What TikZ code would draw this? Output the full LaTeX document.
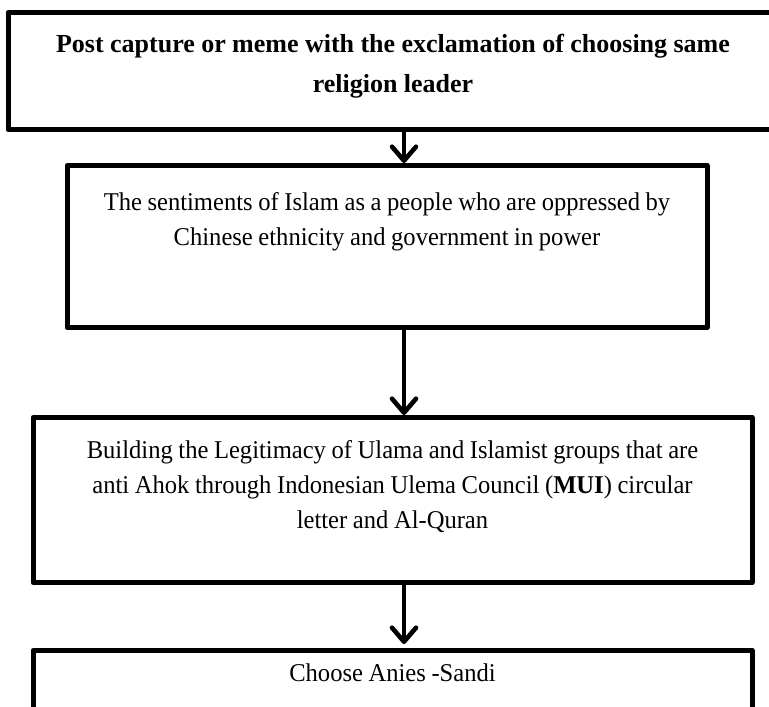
\documentclass[tikz,border=0pt]{standalone}
\usepackage{fontspec}
\setmainfont{Liberation Serif}[FakeStretch=0.96]
\newfontfamily\headfont{Liberation Serif}
\usetikzlibrary{arrows.meta}
\newcommand\bodyfont{\fontsize{12.8}{17.5}\selectfont}
\newcommand\tightsp{\spaceskip=2.8pt\relax}
\newcommand\headsp{\spaceskip=3.2pt\relax}
\begin{document}
\begin{tikzpicture}[x=0.5pt,y=-0.5pt,
  flowbox/.style={draw=black, line width=2.5pt, line join=round, inner sep=0pt,
    align=center, anchor=north, font=\bodyfont},
  arr/.style={line width=2.3pt, -{Straight Barb[length=7pt,width=12pt,round]}}]
\useasboundingbox (0,0) rectangle (769,706);
\clip (0,0) rectangle (769,706);
\node[flowbox, text width=385pt, text height=20pt, text depth=38.5pt,
  font=\fontsize{13}{20}\headfont\bfseries] (b1) at (393,10)
  {\headsp Post capture or meme with the exclamation of choosing same\\religion leader};
\node[flowbox, text width=320pt, text height=22.5pt, text depth=58.5pt] (b2) at (387,163)
  {\tightsp The sentiments of Islam as a people who are oppressed by\\Chinese ethnicity and government in power};
\node[flowbox, text width=359.5pt, text height=20.5pt, text depth=62pt] (b3) at (392.5,415)
  {\tightsp Building the Legitimacy of Ulama and Islamist groups that are\\anti Ahok through Indonesian Ulema Council (\textbf{MUI}) circular\\letter and Al-Quran};
\node[flowbox, text width=359.5pt, text height=15.5pt, text depth=40pt] (b4) at (392.5,648)
  {\tightsp Choose Anies -Sandi};
\coordinate (ax) at (404,0);
\draw[arr] (b1.south -| ax) -- (b2.north -| ax);
\draw[arr] (b2.south -| ax) -- (b3.north -| ax);
\draw[arr, shorten >=2pt] (b3.south -| ax) -- (b4.north -| ax);
\end{tikzpicture}
\end{document}
